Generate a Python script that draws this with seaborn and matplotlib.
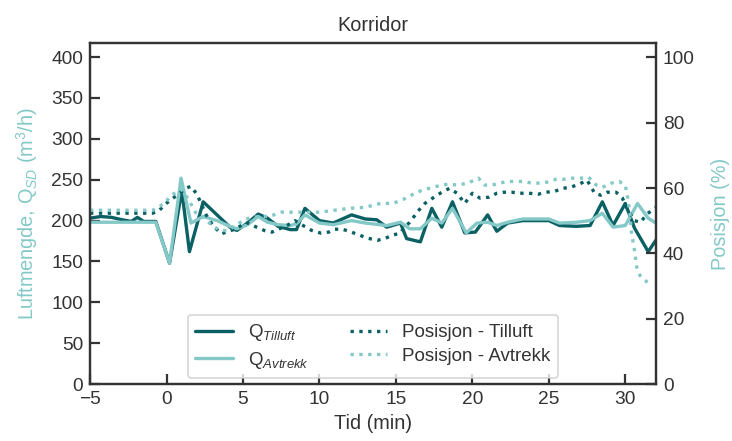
import matplotlib
matplotlib.use("Agg")
import matplotlib.pyplot as plt
import seaborn as sns
import numpy as np

# ---- data ----
t_til = [-5, -4.3, -3.6, -2.9, -2.3, -1.9, -1.5, -0.7, 0.2, 1.0, 1.5, 2.4, 4.15, 4.6, 5.3, 6.0, 6.6,
         7.3, 8.1, 8.5, 9.05, 10.0, 10.9, 12.1, 13.0, 13.75, 14.4, 15.3, 15.7, 16.6, 17.35, 18.0,
         18.7, 19.5, 20.2, 21.0, 21.6, 22.3, 23.3, 25.0, 25.7, 26.8, 27.7, 28.5, 29.2, 30.0, 30.6,
         31.5, 32.0]
q_til = [203, 205, 204, 201, 199, 204, 199, 199, 148, 237, 162, 223, 192, 188, 197, 208, 203,
         193, 189, 189, 215, 200, 197, 207, 202, 201, 192, 197, 178, 174, 215, 192,
         223, 185, 186, 207, 187, 197, 200, 200, 194, 193, 194, 223, 194, 221, 191,
         162, 176]

t_avt = [-5, -0.7, 0.2, 0.95, 1.6, 2.4, 3.3, 4.15, 4.6, 5.3, 6.0, 6.6, 7.3, 8.1, 8.5, 9.05, 10.0,
         10.9, 12.1, 13.0, 14.4, 15.3, 15.9, 16.6, 17.35, 18.0, 18.7, 19.6, 20.3, 21.0, 21.6, 22.3,
         23.3, 25.0, 25.7, 26.8, 27.7, 28.5, 29.2, 30.0, 30.8, 31.5, 32.0]
q_avt = [198, 198, 148, 252, 197, 205, 200, 193, 190, 195, 205, 198, 195, 194, 196, 207, 197,
         195, 200, 197, 194, 198, 190, 190, 203, 197, 215, 185, 197, 198, 194, 198,
         202, 202, 197, 198, 200, 209, 192, 194, 221, 203, 197]

t_pos_til = [-5, -0.9, -0.5, -0.1, 0.6, 1.3, 1.6, 2.0, 2.6, 2.9, 3.2, 3.6, 4.2, 4.5, 5.2, 5.9, 6.4,
             6.9, 7.9, 8.4, 8.9, 9.5, 10.1, 10.6, 11.0, 11.5, 12.1, 12.6, 13.2, 13.8, 14.3, 14.8,
             15.3, 15.5, 15.9, 16.5, 16.9, 17.5, 18.0, 18.5, 19.0, 19.5, 20.0, 20.5, 21.1, 21.6,
             22.0, 22.6, 23.1, 23.7, 24.3, 24.8, 25.4, 25.9, 26.4, 27.0, 27.5, 28.0, 28.4, 28.8,
             29.4, 29.8, 30.2, 30.6, 31.0, 31.4, 32.0]
p_til = [52.3, 52.3, 53, 55, 57.5, 60, 60.5, 58, 51.7, 49.5, 47.7, 46, 47, 47.4, 49.5, 48, 47,
         46.5, 48.6, 50, 48.6, 47, 46.2, 46.5, 47.4, 47.4, 46.5, 45.6, 44.6, 44, 44.6, 45.6,
         46.2, 47.7, 49.5, 53.2, 55.3, 57.2, 58.7, 59.9, 58.4, 55.3, 58.4, 56.9, 57.2, 58.4,
         58.7, 58.7, 58.4, 58.4, 58.1, 58.7, 59, 59.9, 60.2, 61.2, 62.4, 58.4, 57.8, 58.7,
         58.7, 57, 53, 50, 49.5, 52, 54]

t_pos_avt = [-5, -0.9, -0.4, 0.0, 0.3, 0.8, 1.0, 1.5, 1.9, 2.4, 3.0, 3.5, 4.0, 4.5, 5.0, 5.5, 6.0,
             6.8, 7.5, 8.0, 9.0, 10.0, 11.0, 12.0, 13.0, 14.0, 14.8, 15.4, 16.0, 16.7, 17.4, 18.0,
             18.5, 19.0, 19.7, 20.4, 20.8, 21.3, 21.8, 22.3, 22.8, 23.3, 23.9, 24.4, 24.9, 25.5,
             26.0, 26.5, 27.1, 27.6, 28.1, 28.5, 29.1, 29.6, 30.0, 30.15, 30.3, 30.4, 30.6, 30.75,
             30.95, 31.3, 31.6]
p_avt = [53.2, 53.2, 54.5, 56, 57.8, 59, 59.5, 56, 52.5, 51, 48.5, 47, 47, 48.5, 50, 51, 51.2,
         51.4, 52.6, 52.6, 52.6, 52.6, 53.2, 53.8, 54.1, 55.3, 55.3, 56.3, 57.8, 59.3, 60.2, 60.9,
         61.2, 60.9, 61.5, 63, 60.9, 60.9, 61.5, 62, 62, 62, 61.5, 61.5, 61.8, 62.7,
         62.7, 63, 63, 63.3, 60.9, 60.2, 61.5, 62, 60.9, 57.2, 52.3, 46.5, 41, 35.8,
         33.3, 31.8, 30.3]

x_ticks = [-5, 0, 5, 10, 15, 20, 25, 30]
y_ticks = [0, 50, 100, 150, 200, 250, 300, 350, 400]
y2_ticks = [0, 20, 40, 60, 80, 100]

# ---- style ----
sns.set_style("ticks")
plt.rcParams['font.family'] = ['Liberation Sans', 'DejaVu Sans']
plt.rcParams['mathtext.fontset'] = 'custom'
plt.rcParams['mathtext.rm'] = 'Liberation Sans'
plt.rcParams['mathtext.it'] = 'Liberation Sans:italic'
plt.rcParams['mathtext.bf'] = 'Liberation Sans:bold'

DARK = '#0b6064'
LIGHT = '#84c9c7'
SPINE = '#333333'
TXT = '#333333'
FS = 13.8

fig = plt.figure(figsize=(7.32, 4.41), dpi=100)
ax = fig.add_axes([0.123, 0.129, 0.773, 0.773])
ax2 = ax.twinx()

sns.lineplot(x=t_til, y=q_til, ax=ax, color=DARK, lw=2.4, label=r'Q$_{\mathit{Tilluft}}$', legend=False)
sns.lineplot(x=t_avt, y=q_avt, ax=ax, color=LIGHT, lw=2.4, label=r'Q$_{\mathit{Avtrekk}}$', legend=False)
sns.lineplot(x=t_pos_til, y=p_til, ax=ax2, color=DARK, lw=2.4, linestyle=':', label='Posisjon - Tilluft', legend=False)
sns.lineplot(x=t_pos_avt, y=p_avt, ax=ax2, color=LIGHT, lw=2.4, linestyle=':', label='Posisjon - Avtrekk', legend=False)

ax.set_xlim(-5, 32)
ax.set_ylim(0, 417)
ax2.set_ylim(0, 104.3)
ax.set_xticks(x_ticks)
ax.set_xticklabels(['\u2212' + str(-v) if v < 0 else str(v) for v in x_ticks])
ax.set_yticks(y_ticks)
ax2.set_yticks(y2_ticks)

for a in (ax, ax2):
    for s in a.spines.values():
        s.set_color(SPINE)
        s.set_linewidth(1.6)
    a.tick_params(direction='in', length=7, width=1.6, color=SPINE, labelsize=FS,
                  labelcolor=TXT, pad=5)
ax2.tick_params(axis='y', right=True)

ax.set_xlabel('Tid (min)', fontsize=FS + 0.5, color=TXT, labelpad=4)
ax.set_ylabel(r'Luftmengde, Q$_{SD}$ (m$^{3}$/h)', fontsize=FS + 0.5, color=LIGHT, labelpad=8)
ax2.set_ylabel('Posisjon (%)', fontsize=FS + 0.5, color=LIGHT, labelpad=12)
ax.set_title('Korridor', fontsize=FS + 0.5, color=TXT, pad=9)

h1, l1 = ax.get_legend_handles_labels()
h2, l2 = ax2.get_legend_handles_labels()
leg = ax2.legend(h1 + h2, l1 + l2, ncol=2, loc='lower center', bbox_to_anchor=(0.5, -0.01),
                 fontsize=13.5, frameon=True, fancybox=True, edgecolor='#cccccc',
                 handlelength=2.0, columnspacing=2.2, labelspacing=0.35, borderpad=0.4)
leg.get_frame().set_linewidth(1.2)
for t in leg.get_texts():
    t.set_color(TXT)

fig.savefig('out.png', dpi=100)
